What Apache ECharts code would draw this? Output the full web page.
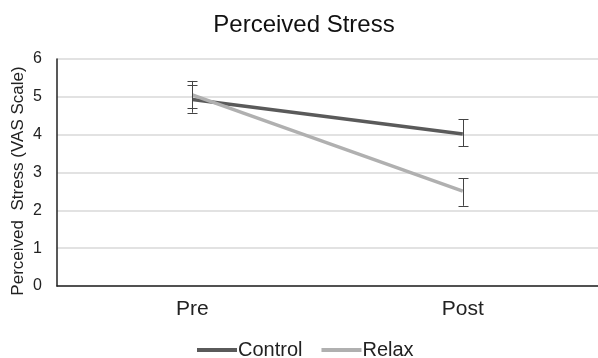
<!DOCTYPE html>
<html><head><meta charset="utf-8">
<script src="https://cdn.jsdelivr.net/npm/echarts@6/dist/echarts.min.js"></script>
<style>html,body{margin:0;padding:0;background:#fff}#c{width:598px;height:358px}</style>
</head><body><div id="c"></div>
<script>
var categories = ['Pre', 'Post'];
var controlMean = [4.93, 4.02];
var controlLow = [4.58, 3.69];
var controlHigh = [5.32, 4.41];
var relaxMean = [5.05, 2.51];
var relaxLow = [4.71, 2.12];
var relaxHigh = [5.42, 2.85];
var yTicks = [0, 1, 2, 3, 4, 5, 6];

var font = 'Liberation Sans, Arial, sans-serif';
function errData(lo, hi) { return categories.map(function (c, i) { return [i, lo[i], hi[i]]; }); }
function errSeries(name, lo, hi) {
  return {
    type: 'custom', name: name + ' err', silent: true, z: 5,
    data: errData(lo, hi),
    renderItem: function (params, api) {
      var a = api.coord([api.value(0), api.value(1)]);
      var b = api.coord([api.value(0), api.value(2)]);
      var x = Math.round(a[0]) + 0.5, cw = 5;
      var st = { stroke: '#444', lineWidth: 1 };
      return { type: 'group', children: [
        { type: 'line', shape: { x1: x, y1: a[1], x2: x, y2: b[1] }, style: st },
        { type: 'line', shape: { x1: x - cw, y1: Math.round(a[1]) + 0.5, x2: x + cw, y2: Math.round(a[1]) + 0.5 }, style: st },
        { type: 'line', shape: { x1: x - cw, y1: Math.round(b[1]) + 0.5, x2: x + cw, y2: Math.round(b[1]) + 0.5 }, style: st }
      ]};
    }
  };
}
var chart = echarts.init(document.getElementById('c'));
chart.setOption({
  animation: false,
  textStyle: { fontFamily: font },
  title: { text: 'Perceived Stress', left: 304, textAlign: 'center', top: 13, padding: 0,
    textStyle: { fontFamily: font, fontSize: 24, fontWeight: 'normal', color: '#111' } },
  legend: {
    data: ['Control', 'Relax'], top: 340, left: 197, padding: 0,
    icon: 'rect', itemWidth: 40, itemHeight: 4, itemGap: 19,
    textStyle: { fontFamily: font, fontSize: 20, color: '#222', padding: [0, 0, 0, -4] }
  },
  graphic: [{
    type: 'text', x: 18, y: 181, rotation: Math.PI / 2,
    style: { text: 'Perceived  Stress (VAS Scale)', font: '17px ' + font, fill: '#222',
      textAlign: 'center', textVerticalAlign: 'middle' }
  }],
  grid: { left: 57, top: 59, width: 548, height: 227, containLabel: false },
  xAxis: {
    type: 'category', data: categories, boundaryGap: true,
    axisLine: { lineStyle: { color: '#222', width: 1.5 } },
    axisTick: { show: false },
    axisLabel: { fontFamily: font, fontSize: 21, color: '#222', margin: 13 }
  },
  yAxis: {
    type: 'value', min: yTicks[0], max: yTicks[yTicks.length - 1], interval: 1,
    axisLine: { show: true, lineStyle: { color: '#222', width: 1.5 } },
    axisTick: { show: false },
    axisLabel: { fontFamily: font, fontSize: 16, color: '#222', margin: 15, padding: [8, 0, 0, 0] },
    splitLine: { lineStyle: { color: '#d9d9d9', width: 1.5 } }
  },
  series: [
    { name: 'Control', type: 'line', data: controlMean, symbol: 'none', z: 3,
      lineStyle: { color: '#5a5a5a', width: 3.5 }, itemStyle: { color: '#5a5a5a' } },
    { name: 'Relax', type: 'line', data: relaxMean, symbol: 'none', z: 4,
      lineStyle: { color: '#b0b0b0', width: 3.5 }, itemStyle: { color: '#b0b0b0' } },
    errSeries('Control', controlLow, controlHigh),
    errSeries('Relax', relaxLow, relaxHigh)
  ]
});
</script></body></html>
